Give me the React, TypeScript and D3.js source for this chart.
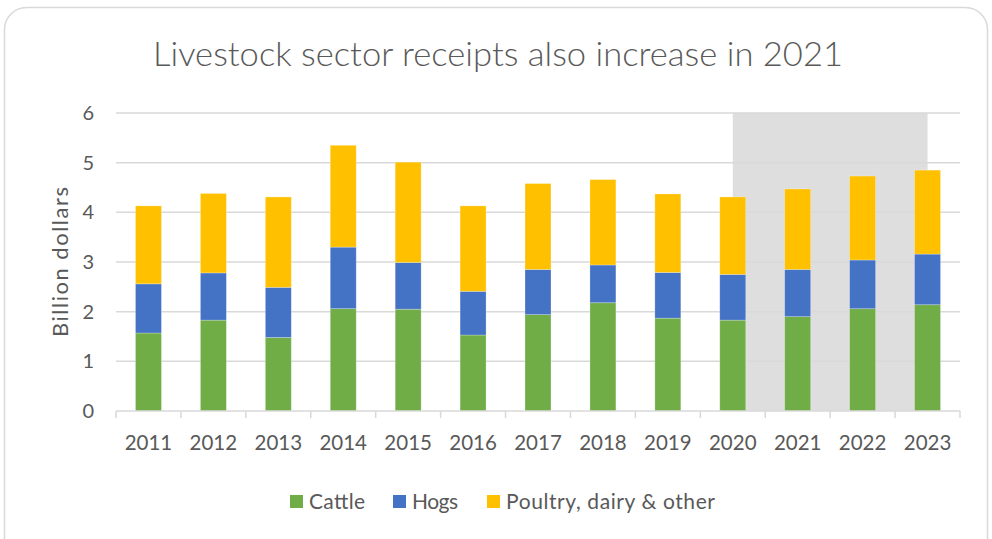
import * as d3 from "d3";

// values (billion dollars)
const years = ["2011", "2012", "2013", "2014", "2015", "2016", "2017", "2018", "2019", "2020", "2021", "2022", "2023"];
const cattle = [1.57, 1.83, 1.48, 2.06, 2.05, 1.53, 1.94, 2.18, 1.87, 1.83, 1.9, 2.06, 2.14];
const hogs = [0.99, 0.95, 1.01, 1.24, 0.94, 0.88, 0.91, 0.76, 0.92, 0.92, 0.95, 0.98, 1.02];
const other = [1.57, 1.6, 1.82, 2.05, 2.02, 1.72, 1.73, 1.72, 1.58, 1.56, 1.62, 1.69, 1.69];
const yTicks = [0, 1, 2, 3, 4, 5, 6];
const seriesNames = ["Cattle", "Hogs", "Poultry, dairy & other"];
const colors = ["#70AD47", "#4472C4", "#FFC000"];
const shadeFrom = "2020";
const shadeTo = "2023";

const W = 992;
const H = 539;
const FONT = "Lato, 'Open Sans', sans-serif";
const TXT = "#595959";
const GRID = "#D9D9D9";

export default function App() {
  const x = d3.scaleBand().domain(years).range([116, 960]).paddingInner(0.6).paddingOuter(0.3);
  const y = d3.scaleLinear().domain([0, 6]).range([411, 113]);

  const rows = years.map((yr, i) => ({ year: yr, Cattle: cattle[i], Hogs: hogs[i], Other: other[i] }));
  const stack = d3.stack<any>().keys(["Cattle", "Hogs", "Other"])(rows);

  const step = x.step();
  const x0 = x.range()[0];
  const boundaries = d3.range(years.length + 1).map((i) => x0 + i * step);
  const center = (yr: string) => (x(yr) as number) + x.bandwidth() / 2;

  // legend layout
  const legendX = [290, 393, 487];
  const legendW = [56, 46, 209];

  return (
    <svg width={W} height={H} style={{ position: "absolute", left: 0, top: 0, background: "#fff" }}>
      <rect x={4.5} y={7.5} width={983} height={560} rx={22} fill="#fff" stroke={GRID} strokeWidth={1.5} />

      <text x={498} y={66} textAnchor="middle" fontFamily={FONT} fontWeight={300} fontSize={34} fill={TXT}
        textLength={690} lengthAdjust="spacingAndGlyphs">
        Livestock sector receipts also increase in 2021
      </text>

      {/* shaded forecast region */}
      <rect x={center(shadeFrom)} y={y(6)} width={center(shadeTo) - center(shadeFrom)} height={y(0) - y(6)} fill="#DEDEDE" />

      {yTicks.map((t) => (
        <g key={t}>
          {t > 0 && <line x1={116} x2={960} y1={y(t)} y2={y(t)} stroke={GRID} strokeWidth={1.5} />}
          <text x={94} y={y(t)} dy="0.35em" textAnchor="end" fontFamily={FONT} fontSize={20} fill={TXT}>{t}</text>
        </g>
      ))}

      {stack.map((s, si) => (
        <g key={si}>
          {s.map((d, i) => (
            <rect key={i} x={x(years[i])} y={y(d[1])} width={x.bandwidth()} height={y(d[0]) - y(d[1])}
              fill={colors[si]} stroke="#fff" strokeOpacity={0.35} strokeWidth={0.75} />
          ))}
        </g>
      ))}

      <line x1={116} x2={960} y1={y(0)} y2={y(0)} stroke={GRID} strokeWidth={1.5} />
      {boundaries.map((b, i) => (
        <line key={i} x1={b} x2={b} y1={y(0)} y2={y(0) + 7} stroke={GRID} strokeWidth={1.5} />
      ))}
      {years.map((yr) => (
        <text key={yr} x={center(yr)} y={450} textAnchor="middle" fontFamily={FONT} fontSize={20.5} fill={TXT}>{yr}</text>
      ))}

      <text transform={`translate(68,${(y(0) + y(6)) / 2}) rotate(-90)`} textAnchor="middle" fontFamily={FONT} fontSize={22} fill={TXT}
        textLength={150} lengthAdjust="spacing">
        Billion dollars
      </text>

      {seriesNames.map((n, i) => (
        <g key={n} transform={`translate(${legendX[i]},495)`}>
          <rect x={0} y={0} width={13} height={13} fill={colors[i]} />
          <text x={19} y={7} dy="0.35em" fontFamily={FONT} fontSize={21} fill={TXT}
            textLength={legendW[i]} lengthAdjust="spacing">{n}</text>
        </g>
      ))}
    </svg>
  );
}
